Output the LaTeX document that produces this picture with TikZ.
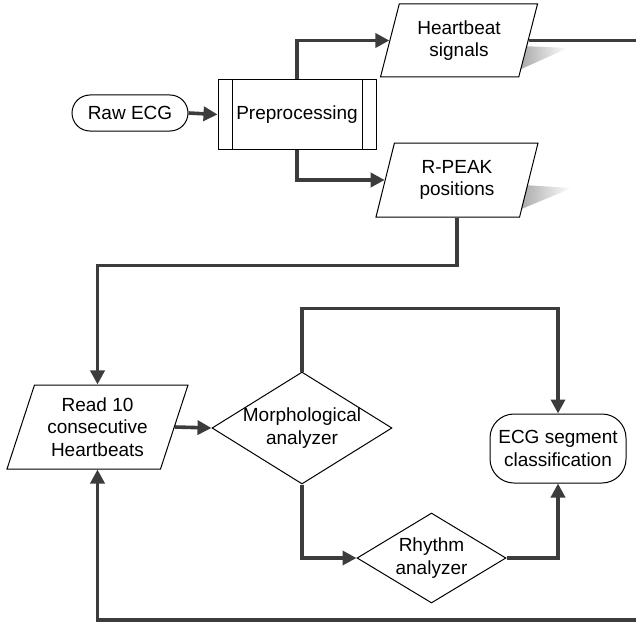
\documentclass[tikz,border=0pt]{standalone}
\usepackage{fontspec}
\setmainfont{Liberation Sans}
\usetikzlibrary{shapes.geometric,arrows.meta}
\definecolor{flowgray}{HTML}{3C3C3C}
\tikzset{
  every node/.style={font=\fontsize{19}{22.5}\selectfont, align=center, text=black},
  shapeline/.style={draw=black, line width=1pt, fill=white},
  term/.style={shapeline, rounded corners=18pt, minimum width=116pt, minimum height=36pt, inner sep=0pt},
  procbox/.style={shapeline, minimum width=158pt, minimum height=69pt, inner sep=0pt},
  iobox/.style={shapeline, trapezium, trapezium left angle=65, trapezium right angle=115,
    trapezium stretches body, inner sep=0pt},
  decide/.style={shapeline, diamond, inner sep=-3pt},
  flow/.style={draw=flowgray, line width=3.6pt, -{Triangle[length=14pt,width=14pt]}},
  plainflow/.style={draw=flowgray, line width=3.6pt},
  shadowtri/.style={left color=gray!85, right color=white, draw=none}
}
\begin{document}
\begin{tikzpicture}[x=1pt,y=-1pt]
\useasboundingbox (0,0) rectangle (636,623);

% soft shadows behind the data boxes
\shade[shadowtri] (522,46) -- (568,48) -- (508,75) -- cycle;
\shade[shadowtri] (523,185) -- (572,188) -- (507,215) -- cycle;

% nodes
\node[term] (raw) at (130,113) {Raw ECG};
\node[procbox] (pre) at (297,114.5) {Preprocessing};
\draw[line width=1pt] ([xshift=15pt]pre.north west) -- ([xshift=15pt]pre.south west);
\draw[line width=1pt] ([xshift=-14pt]pre.north east) -- ([xshift=-14pt]pre.south east);
\node[iobox, minimum width=157pt, minimum height=73pt] (hb) at (459,40.5) {Heartbeat\\signals};
\node[iobox, minimum width=162pt, minimum height=74pt] (rp) at (457,180) {R-PEAK\\positions};
\node[iobox, minimum width=181pt, minimum height=84pt] (read) at (97.5,427) {Read 10\\consecutive\\Heartbeats};
\node[decide, shape aspect=1.607, minimum width=180pt, minimum height=112pt] (morph) at (302,428) {Morphological\\analyzer};
\node[decide, shape aspect=1.656, minimum width=149pt, minimum height=90pt] (rhy) at (431.5,558) {Rhythm\\analyzer};
\node[shapeline, rounded corners=24pt, minimum width=136pt, minimum height=69pt, inner sep=0pt]
  (ecg) at (558,448.5) {ECG segment\\classification};

% off-page connector ends
\coordinate (hbout) at (636,0);
\coordinate (fbin) at (636,620);

% connectors
\draw[flow] (raw.east) -- (pre.west);
\draw[flow] (pre.north) |- (hb.west);
\draw[flow] (pre.south) |- (rp.west);
\draw[plainflow] (hb.east) -- (hb.east -| hbout);
\draw[flow] (rp.south) -- ++(0,48) -| (read.north);
\draw[flow] (read.east) -- (morph.west);
\draw[flow] (morph.north) -- ++(0,-63) -| (ecg.north);
\draw[flow] (morph.south) |- (rhy.west);
\draw[flow] (rhy.east) -| (ecg.south);
\draw[flow] (fbin) -| (read.south);
\end{tikzpicture}
\end{document}
